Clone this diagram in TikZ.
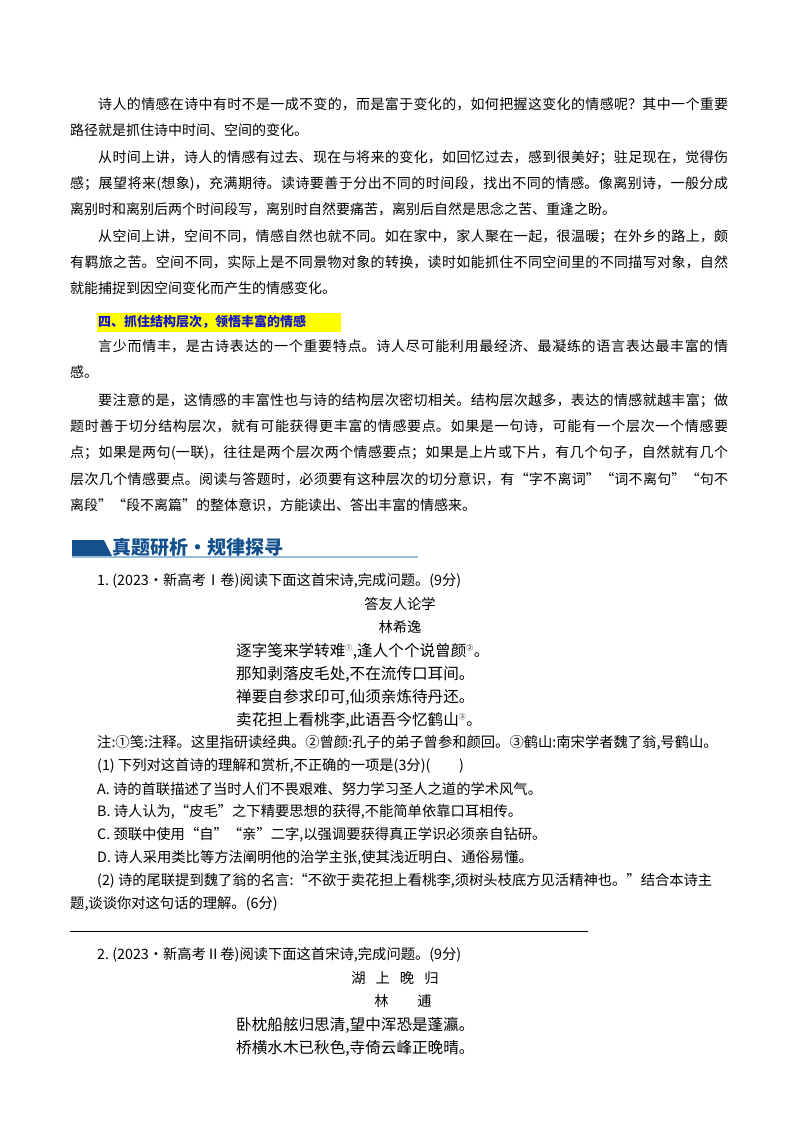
\documentclass[tikz,border=0pt]{standalone}
\usepackage{fontspec}
\setmainfont{Noto Sans CJK SC}
\XeTeXlinebreaklocale "zh"
\XeTeXlinebreakskip=0pt plus 1em
\definecolor{hl}{RGB}{255,255,0}
\definecolor{hb}{RGB}{20,20,200}
\definecolor{bn}{RGB}{20,80,140}
\definecolor{bl}{RGB}{150,190,220}
\begin{document}
\begin{tikzpicture}[x=1pt,y=-1pt,
  para/.style={anchor=north west,inner sep=0pt,text width=658pt,align=justify,font=\fontsize{14}{26.4}\selectfont},
  ln/.style={anchor=west,inner sep=0pt,font=\fontsize{14.3}{16}\selectfont},
  pm/.style={anchor=west,inner sep=0pt,font=\fontsize{15.6}{18}\selectfont},
  ctr/.style={anchor=center,inner sep=0pt,font=\fontsize{14.3}{16}\selectfont}]
\useasboundingbox (0,0) rectangle (800,1132);
\fill[white] (0,0) rectangle (800,1132);
\node[para] (p1) at (70,97) {\hspace*{28pt}诗人的情感在诗中有时不是一成不变的，而是富于变化的，如何把握这变化的情感呢？其中一个重要\linebreak 路径就是抓住诗中时间、空间的变化。};
\node[para] (p2) at (70,150) {\hspace*{28pt}从时间上讲，诗人的情感有过去、现在与将来的变化，如回忆过去，感到很美好；驻足现在，觉得伤\linebreak 感；展望将来(想象)，充满期待。读诗要善于分出不同的时间段，找出不同的情感。像离别诗，一般分成\linebreak 离别时和离别后两个时间段写，离别时自然要痛苦，离别后自然是思念之苦、重逢之盼。};
\node[para] (p3) at (70,229) {\hspace*{28pt}从空间上讲，空间不同，情感自然也就不同。如在家中，家人聚在一起，很温暖；在外乡的路上，颇\linebreak 有羁旅之苦。空间不同，实际上是不同景物对象的转换，读时如能抓住不同空间里的不同描写对象，自然\linebreak 就能捕捉到因空间变化而产生的情感变化。};
\fill[hl] (97,313) rectangle (341,332);
\node[anchor=west,inner sep=0pt,text=hb,font=\fontsize{13}{16}\selectfont\bfseries] (h4) at (98,322) {四、抓住结构层次，领悟丰富的情感};
\node[para] (p4) at (70,339) {\hspace*{28pt}言少而情丰，是古诗表达的一个重要特点。诗人尽可能利用最经济、最凝练的语言表达最丰富的情\linebreak 感。};
\node[para] (p5) at (70,393) {\hspace*{28pt}要注意的是，这情感的丰富性也与诗的结构层次密切相关。结构层次越多，表达的情感就越丰富；做\linebreak 题时善于切分结构层次，就有可能获得更丰富的情感要点。如果是一句诗，可能有一个层次一个情感要\linebreak 点；如果是两句(一联)，往往是两个层次两个情感要点；如果是上片或下片，有几个句子，自然就有几个\linebreak 层次几个情感要点。阅读与答题时，必须要有这种层次的切分意识，有“字不离词”“词不离句”“句不\linebreak 离段”“段不离篇”的整体意识，方能读出、答出丰富的情感来。};
% banner
\fill[bn] (72,540) -- (104,540) -- (112,556) -- (72,556) -- cycle;
\draw[bl,line width=1.2pt] (72,557) -- (418,557);
\node[anchor=west,inner sep=0pt,text=bn,font=\fontsize{19}{22}\selectfont\bfseries] (bt) at (112,547) {真题研析·规律探寻};
% question 1
\node[ln] (q1) at (97,581) {1.\ (2023·新高考Ⅰ卷)阅读下面这首宋诗,完成问题。(9分)};
\node[ctr] (t1) at (400,604) {答友人论学};
\node[ctr] (a1) at (400,627) {林希逸};
\node[pm] (l1) at (236,651) {逐字笺来学转难\textsuperscript{\scriptsize ①},逢人个个说曾颜\textsuperscript{\scriptsize ②}。};
\node[pm] (l2) at (236,674) {那知剥落皮毛处,不在流传口耳间。};
\node[pm] (l3) at (236,697) {禅要自参求印可,仙须亲炼待丹还。};
\node[pm] (l4) at (236,720) {卖花担上看桃李,此语吾今忆鹤山\textsuperscript{\scriptsize ③}。};
\node[ln] (n1) at (97,743) {注:①笺:注释。这里指研读经典。②曾颜:孔子的弟子曾参和颜回。③鹤山:南宋学者魏了翁,号鹤山。};
\node[ln] (s1) at (97,766) {(1)\ 下列对这首诗的理解和赏析,不正确的一项是(3分)(\hspace{2em})};
\node[ln] (oa) at (97,789) {A.\ 诗的首联描述了当时人们不畏艰难、努力学习圣人之道的学术风气。};
\node[ln] (ob) at (97,812) {B.\ 诗人认为,“皮毛”之下精要思想的获得,不能简单依靠口耳相传。};
\node[ln] (oc) at (97,835) {C.\ 颈联中使用“自”“亲”二字,以强调要获得真正学识必须亲自钻研。};
\node[ln] (od) at (97,858) {D.\ 诗人采用类比等方法阐明他的治学主张,使其浅近明白、通俗易懂。};
\node[ln] (s2) at (97,881) {(2)\ 诗的尾联提到魏了翁的名言:“不欲于卖花担上看桃李,须树头枝底方见活精神也。”结合本诗主};
\node[ln] (s2b) at (70,904) {题,谈谈你对这句话的理解。(6分)};
\draw[line width=0.8pt] (70,931) -- (588,931);
% question 2
\node[ln] (q2) at (97,955) {2.\ (2023·新高考Ⅱ卷)阅读下面这首宋诗,完成问题。(9分)};
\node[ctr] (t2) at (395,978) {湖\hspace{0.7em}上\hspace{0.7em}晚\hspace{0.7em}归};
\node[ctr] (a2) at (403,1001) {林\hspace{2em}逋};
\node[pm] (m1) at (236,1025) {卧枕船舷归思清,望中浑恐是蓬瀛。};
\node[pm] (m2) at (236,1048) {桥横水木已秋色,寺倚云峰正晚晴。};
\end{tikzpicture}
\end{document}
